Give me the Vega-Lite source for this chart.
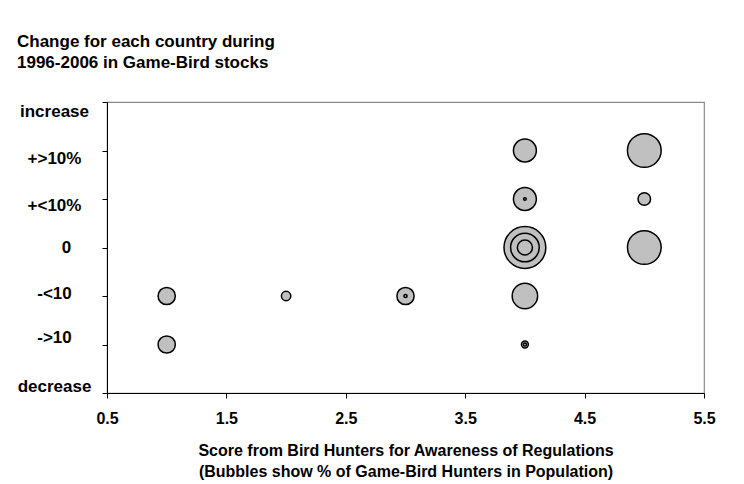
{
  "$schema": "https://vega.github.io/schema/vega-lite/v6.json",
  "autosize": {"type": "none"},
  "padding": {"left": 107, "top": 102, "right": 40, "bottom": 91},
  "width": 597,
  "height": 291,
  "background": "white",
  "config": {
    "font": "Liberation Sans",
    "view": {"stroke": "#8a8a8a", "strokeWidth": 1.2}
  },
  "title": {
    "text": ["Change for each country during", "1996-2006 in Game-Bird stocks"],
    "anchor": "start",
    "frame": "group",
    "dx": -90,
    "offset": 30,
    "fontSize": 17,
    "fontWeight": "bold",
    "lineHeight": 21,
    "color": "black",
    "font": "Liberation Sans"
  },
  "data": {
    "values": [
      {"score": 4, "change": "0", "hunters": 10.0},
      {"score": 5, "change": "+>10%", "hunters": 6.5},
      {"score": 5, "change": "0", "hunters": 6.5},
      {"score": 4, "change": "0", "hunters": 4.7},
      {"score": 4, "change": "-<10", "hunters": 3.7},
      {"score": 4, "change": "+>10%", "hunters": 3.0},
      {"score": 4, "change": "+<10%", "hunters": 3.0},
      {"score": 1, "change": "-<10", "hunters": 1.7},
      {"score": 1, "change": "->10", "hunters": 1.7},
      {"score": 3, "change": "-<10", "hunters": 1.7},
      {"score": 4, "change": "0", "hunters": 1.3},
      {"score": 5, "change": "+<10%", "hunters": 0.9},
      {"score": 2, "change": "-<10", "hunters": 0.5},
      {"score": 4, "change": "->10", "hunters": 0.27},
      {"score": 3, "change": "-<10", "hunters": 0.06},
      {"score": 4, "change": "->10", "hunters": 0.06},
      {"score": 4, "change": "+<10%", "hunters": 0.04}
    ]
  },
  "mark": {"type": "circle", "fill": "#c0c0c0", "stroke": "black", "strokeWidth": 1.5, "opacity": 1, "fillOpacity": 1},
  "encoding": {
    "x": {
      "field": "score",
      "type": "quantitative",
      "scale": {"domain": [0.5, 5.5], "nice": false, "zero": false},
      "axis": {
        "values": [0.5, 1.5, 2.5, 3.5, 4.5, 5.5],
        "format": ".1f",
        "grid": false,
        "domainColor": "black",
        "tickColor": "black",
        "tickSize": 5,
        "labelFontSize": 16,
        "labelFontWeight": "bold",
        "labelColor": "black",
        "labelPadding": 12,
        "labelFlush": false,
        "title": ["Score from Bird Hunters for Awareness of Regulations", "(Bubbles show % of Game-Bird Hunters in Population)"],
        "titleFontSize": 16,
        "titleFontWeight": "bold",
        "titleColor": "black",
        "titleLineHeight": 21,
        "titlePadding": 16
      }
    },
    "y": {
      "field": "change",
      "type": "ordinal",
      "scale": {
        "type": "point",
        "domain": ["increase", "+>10%", "+<10%", "0", "-<10", "->10", "decrease"],
        "padding": 0
      },
      "axis": {
        "title": null,
        "grid": false,
        "domainColor": "black",
        "tickColor": "black",
        "tickSize": 5,
        "labelFontSize": 17,
        "labelFontWeight": "bold",
        "labelColor": "black",
        "labelAlign": "center",
        "labelBaseline": "middle",
        "labelPadding": {"condition": {"test": "datum.value === '0'", "value": 36}, "value": 48},
        "labelOffset": {
          "condition": [
            {"test": "datum.value === 'increase'", "value": 9},
            {"test": "datum.value === '+>10%'", "value": 8},
            {"test": "datum.value === '+<10%'", "value": 6},
            {"test": "datum.value === '-<10'", "value": -3},
            {"test": "datum.value === '->10'", "value": -7},
            {"test": "datum.value === 'decrease'", "value": -7}
          ],
          "value": 0
        }
      }
    },
    "size": {
      "field": "hunters",
      "type": "quantitative",
      "scale": {"domain": [0, 10], "range": [0, 1750], "zero": true},
      "legend": null
    },
    "order": {"field": "hunters", "sort": "descending"}
  }
}
